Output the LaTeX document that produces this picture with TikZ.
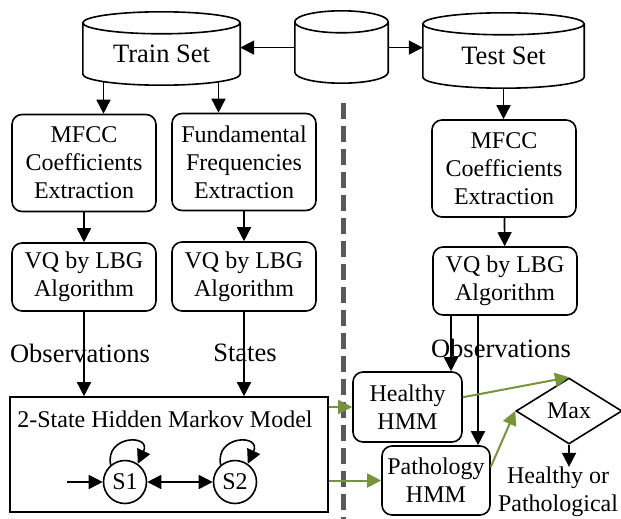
\documentclass[tikz,border=0pt]{standalone}
\usepackage{xcolor}
\usepackage{fontspec}
\setmainfont{Liberation Serif}
\usepackage{tikz}
\usetikzlibrary{calc}
\usetikzlibrary{arrows.meta}
\usetikzlibrary{shapes}
\usetikzlibrary{shapes.geometric}
\tikzset{>={Triangle[length=14pt, width=14pt]}}
\definecolor{hmmgreen}{HTML}{77933C}
\tikzstyle{db} = [rectangle, draw = none, inner sep = 0, font = \fontsize{26.5}{30}\selectfont]
\tikzstyle{blk} = [rectangle, rounded corners = 10pt, draw, line width = 1.6pt, align = center, minimum width = 144pt, inner sep = 0]
\tikzstyle{arr} = [->, line width = 1.6pt]
\tikzstyle{garr} = [->, draw = hmmgreen, fill = hmmgreen, line width = 2pt]
\tikzstyle{lbl} = [draw = none, inner sep = 0, font = \fontsize{26.5}{30}\selectfont]
% cylinder outline round a db node
\newcommand{\dbcyl}[1]{%
  \draw [line width = 1.6pt] let \p1 = (#1.north west), \p2 = (#1.south east), \n1 = {(\x2-\x1)/2} in
    (#1.north) ellipse [x radius = \n1, y radius = 11pt]
    (\x1, \y1) -- (\x1, \y2+11pt) arc [start angle = 180, end angle = 360, x radius = \n1, y radius = 11pt] -- (\x2, \y1);}

\begin{document}
\begin{tikzpicture}[x = 1pt, y = -1pt, font = \fontsize{24}{28}\selectfont]
\useasboundingbox (0, 0) rectangle (621, 519);
\draw [line width = 5pt, draw = black!65, dash pattern = on 16pt off 7pt] (343, 103) -- (343, 519);
% data sets
\node [db, minimum width = 157pt, minimum height = 62pt] (train) at (161.5, 54) {Train Set};
\node [db, minimum width = 93pt, minimum height = 61pt] (data) at (341.5, 52.5) {};
\node [db, minimum width = 161pt, minimum height = 64pt] (test) at (503.5, 56) {Test Set};
\dbcyl{train}
\dbcyl{data}
\dbcyl{test}
% training side
\node [blk, minimum height = 97pt] (mfcc) at (84, 163) {MFCC\\Coefficients\\Extraction};
\node [blk, minimum height = 97pt] (fund) at (244, 162) {Fundamental\\Frequencies\\Extraction};
\node [blk, minimum height = 68pt] (vq) at (84, 277) {VQ by LBG\\Algorithm};
\node [blk, minimum height = 69pt] (vqf) at (244, 276.5) {VQ by LBG\\Algorithm};
\node [lbl] (obs) at (80, 353) {Observations};
\node [lbl] (states) at (245, 353) {States};
\node [rectangle, draw, line width = 1.6pt, minimum width = 318pt, minimum height = 115pt] (hmm) at (169, 454.5) {};
\node [draw = none, inner sep = 0] (title) at (165, 419) {2-State Hidden Markov Model};
\node [circle, draw, line width = 1.6pt, minimum size = 43pt, inner sep = 0] (s1) at (125, 482) {S1};
\node [circle, draw, line width = 1.6pt, minimum size = 43pt, inner sep = 0] (s2) at (235, 482) {S2};
% test side
\node [blk, minimum height = 97pt] (mfcct) at (504, 168.5) {MFCC\\Coefficients\\Extraction};
\node [blk, minimum height = 68pt] (vqt) at (505, 281) {VQ by LBG\\Algorithm};
\node [lbl] (obst) at (501, 348) {Observations};
\node [blk, minimum width = 109pt, minimum height = 70pt] (healthy) at (407.5, 407) {Healthy\\HMM};
\node [blk, minimum width = 108pt, minimum height = 69pt] (patho) at (436, 480.5) {Pathology\\HMM};
\node [diamond, draw, line width = 1.6pt, aspect = 1.6, minimum width = 106pt, minimum height = 66pt, inner sep = 0] (max) at (569, 411) {Max};
\node [draw = none, inner sep = 0, align = center] (result) at (558, 492) {Healthy or\\Pathological};

\coordinate (t1) at ($(train.south) + (-58, -3.5)$);
\coordinate (t2) at ($(train.south) + (57, -3.5)$);
\coordinate (o1) at ($(vqt.south) + (-54, 0)$);
\coordinate (o2) at ($(vqt.south) + (-27, 0)$);
\coordinate (init) at ($(s1.west) + (-36, 0)$);

\draw [arr] (data.174) -- (data.174 -| train.east);
\draw [arr] (data.6) -- (data.6 -| test.west);
\draw [arr] (t1) -- (t1 |- mfcc.north);
\draw [arr] (t2) -- (t2 |- fund.north);
\draw [arr] (test.south) -- (test.south |- mfcct.north);
\draw [arr] (mfcc) -- (vq);
\draw [arr] (fund) -- (vqf);
\draw [arr] (mfcct) -- (vqt);
\draw [arr] (vq.south) -- (vq.south |- hmm.north);
\draw [arr] (vqf.south) -- (vqf.south |- hmm.north);
\draw [arr] (o1) -- (o1 |- healthy.north);
\draw [arr] (o2) -- (o2 |- patho.north);
% markov chain
\draw [arr] (init) -- (s1);
\draw [<->, line width = 1.6pt] (s1) -- (s2);
\draw [arr] (s1.130) .. controls +(-6, -30) and +(14, -30) .. (s1.55);
\draw [arr] (s2.130) .. controls +(-6, -30) and +(14, -30) .. (s2.55);
% scoring
\draw [garr] (hmm.east |- healthy.west) -- (healthy.west);
\draw [garr] (hmm.east |- patho.west) -- (patho.west);
\draw [garr] (healthy.10) -- (max.north);
\draw [garr] (patho.14) -- (max.west);
\draw [arr] (max.south) -- (max.south |- result.north);
\end{tikzpicture}
\end{document}
